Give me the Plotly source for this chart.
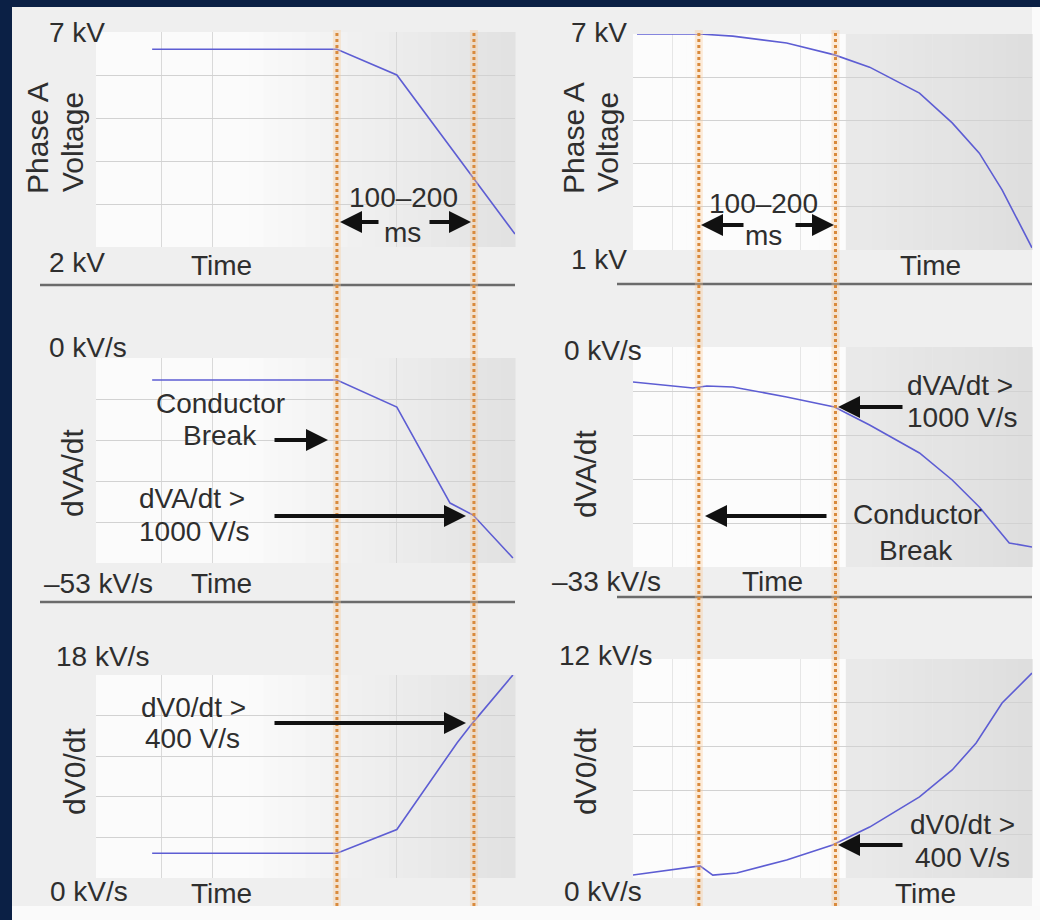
import plotly.graph_objects as go

W, H = 1040, 920
FONT = "Liberation Sans, Arial, sans-serif"
TXT = "#2e2e2e"
NAVY = "#0b2045"
CURVE = "#5d5dd3"

# ---------------- data (time axis 0..100 per column) ----------------
t_l1 = [13.4, 57.5, 71.8, 100.0]
v_l1 = [6.6, 6.6, 6.0, 2.3]
t_l2 = [13.4, 57.5, 71.8, 84.5, 90.0, 99.5]
v_l2 = [-5.7, -5.7, -12.7, -37.5, -40.6, -51.7]
t_l3 = [13.4, 57.5, 71.8, 86.2, 90.0, 99.5]
v_l3 = [2.2, 2.2, 4.3, 12.0, 13.8, 18.0]
t_r1 = [1.0, 16.8, 25.0, 38.5, 50.5, 59.3, 71.8, 80.0, 86.8, 92.5, 100.0]
v_r1 = [7.0, 7.0, 6.94, 6.75, 6.42, 6.08, 5.36, 4.53, 3.69, 2.67, 1.06]
t_r2 = [0.0, 15.0, 18.5, 25.0, 38.5, 50.5, 59.3, 71.8, 80.0, 86.8, 94.3, 100.0]
v_r2 = [-5.25, -6.15, -5.85, -6.0, -7.5, -9.0, -11.7, -15.9, -19.95, -24.0, -29.4, -30.0]
t_r3 = [0.0, 15.0, 16.8, 20.0, 26.0, 38.5, 50.0, 59.3, 71.8, 80.0, 86.0, 92.5, 100.0]
v_r3 = [0.16, 0.60, 0.66, 0.16, 0.27, 0.99, 1.81, 2.79, 4.44, 5.92, 7.40, 9.59, 11.23]

# break / detection instants (time units)
break_left, detect_left = 57.5, 90.2
break_right, detect_right = 16.5, 50.75

# axis ranges and end labels
y_ranges = [[2, 7], [1, 7], [-53, 0], [-33, 0], [0, 18], [0, 12]]
top_labels = ["7 kV", "7 kV", "0 kV/s", "0 kV/s", "18 kV/s", "12 kV/s"]
bottom_labels = ["2 kV", "1 kV", "\u201353 kV/s", "\u201333 kV/s", "0 kV/s", "0 kV/s"]
y_titles = ["dVA/dt", "dV0/dt"]
x_title = "Time"
span_text = ["100\u2013200", "ms"]
left_vgrid = [0, 15.75, 27.9, 71.8]
right_vgrid = [0, 10, 42, 75]

# ---------------- layout geometry (pixels) ----------------
def X(p):
    return p / W

def Y(p):
    return 1 - p / H

col_px = {"L": (96, 515), "R": (633, 1032)}
row_px = [(32, 247), (34, 250), (358, 563), (347, 567), (675, 878), (659, 878)]
cols = ["L", "R", "L", "R", "L", "R"]

fig = go.Figure()
series = [(t_l1, v_l1), (t_r1, v_r1), (t_l2, v_l2), (t_r2, v_r2), (t_l3, v_l3), (t_r3, v_r3)]
layout_axes = {}
for i, (tt, vv) in enumerate(series):
    n = "" if i == 0 else str(i + 1)
    fig.add_trace(go.Scatter(x=tt, y=vv, mode="lines", line=dict(color=CURVE, width=1.6),
                             xaxis="x" + n, yaxis="y" + n, showlegend=False, hoverinfo="skip"))
    x0, x1 = col_px[cols[i]]
    y0, y1 = row_px[i]
    lo, hi = y_ranges[i]
    layout_axes["xaxis" + n] = dict(domain=[X(x0), X(x1)], range=[0, 100], anchor="y" + n,
                                    showticklabels=False, ticks="", zeroline=False, showline=False,
                                    tickvals=left_vgrid if cols[i] == "L" else right_vgrid,
                                    gridcolor="#d9d9d9" if cols[i] == "L" else "#e6e6e6", gridwidth=1,
                                    fixedrange=True)
    layout_axes["yaxis" + n] = dict(domain=[Y(y1), Y(y0)], range=[lo, hi], anchor="x" + n,
                                    showticklabels=False, ticks="", zeroline=False, showline=False,
                                    tickvals=[lo + k * (hi - lo) / 5 for k in range(6)],
                                    gridcolor="#d2d2d2", gridwidth=1, fixedrange=True)

shapes = []
# content background
shapes.append(dict(type="rect", xref="paper", yref="paper", x0=X(12), x1=X(1040), y0=Y(920), y1=Y(7),
                   fillcolor="#efefef", line=dict(width=0), layer="below"))
shapes.append(dict(type="rect", xref="paper", yref="paper", x0=X(1032), x1=X(1040), y0=Y(920), y1=Y(7),
                   fillcolor="#fbfbfb", line=dict(width=0), layer="below"))
shapes.append(dict(type="rect", xref="paper", yref="paper", x0=X(12), x1=X(1040), y0=Y(920), y1=Y(906),
                   fillcolor="#fafafa", line=dict(width=0), layer="below"))
# panel gradients
NS = 30
for i in range(6):
    x0, x1 = col_px[cols[i]]
    y0, y1 = row_px[i]
    for k in range(NS):
        f = (k + 0.5) / NS
        if cols[i] == "L":
            g = 251 if f < 0.35 else 251 - (f - 0.35) / 0.65 * 26
        else:
            g = 252 if f < 0.53 else 234 - (f - 0.53) / 0.47 * 12
        g = int(round(g))
        shapes.append(dict(type="rect", xref="paper", yref="paper",
                           x0=X(x0 + (x1 - x0) * k / NS), x1=X(x0 + (x1 - x0) * (k + 1) / NS + 0.6),
                           y0=Y(y1), y1=Y(y0), fillcolor=f"rgb({g},{g},{g})",
                           line=dict(width=0), layer="below"))
# separators
for (xa, xb, yy) in [(40, 515, 285), (617, 1032, 284), (40, 515, 602), (617, 1032, 597)]:
    shapes.append(dict(type="line", xref="paper", yref="paper", x0=X(xa), x1=X(xb), y0=Y(yy), y1=Y(yy),
                       line=dict(color="#6b6b6b", width=2.5)))
# orange markers
for xr, tv in [("x", break_left), ("x", detect_left), ("x2", break_right), ("x2", detect_right)]:
    shapes.append(dict(type="line", xref=xr, yref="paper", x0=tv, x1=tv, y0=Y(906), y1=Y(30),
                       line=dict(color="rgba(250,200,150,0.35)", width=8)))
    shapes.append(dict(type="line", xref=xr, yref="paper", x0=tv, x1=tv, y0=Y(906), y1=Y(30),
                       line=dict(color="#d98a3c", width=3, dash="3px,3px")))

ann = []

def txt(text, px, py, size=28, xanchor="center", angle=0):
    ann.append(dict(text=text, x=X(px), y=Y(py), xref="paper", yref="paper", showarrow=False,
                    xanchor=xanchor, yanchor="middle", textangle=angle,
                    font=dict(family=FONT, size=size, color=TXT)))

def arrow(hx, hy, tx, ty):
    ann.append(dict(text="", x=X(hx), y=Y(hy), xref="paper", yref="paper", ax=tx - hx, ay=ty - hy,
                    showarrow=True, arrowhead=2, arrowsize=1.1, arrowwidth=4, arrowcolor="#111111",
                    standoff=0, startstandoff=0))

# end labels
txt(top_labels[0], 47, 33, xanchor="left")
txt(bottom_labels[0], 47, 262, xanchor="left")
txt(top_labels[1], 629, 33, xanchor="right")
txt(bottom_labels[1], 629, 259, xanchor="right")
txt(top_labels[2], 47, 347, xanchor="left")
txt(bottom_labels[2], 42, 583, xanchor="left")
txt(top_labels[3], 644, 350, xanchor="right")
txt(bottom_labels[3], 663, 581, xanchor="right")
txt(top_labels[4], 54, 656, xanchor="left")
txt(bottom_labels[4], 48, 891, xanchor="left")
txt(top_labels[5], 654, 655, xanchor="right")
txt(bottom_labels[5], 644, 891, xanchor="right")

# time labels
txt(x_title, 221, 265)
txt(x_title, 930, 265)
txt(x_title, 221, 583)
txt(x_title, 772, 581)
txt(x_title, 221, 893)
txt(x_title, 925, 893)

# y titles
txt("Phase A", 37, 138, size=30, angle=-90)
txt("Voltage", 72, 142, size=30, angle=-90)
txt("Phase A", 573, 138, size=30, angle=-90)
txt("Voltage", 607, 142, size=30, angle=-90)
txt(y_titles[0], 72, 473, size=30, angle=-90)
txt(y_titles[0], 585, 474, size=30, angle=-90)
txt(y_titles[1], 74, 772, size=30, angle=-90)
txt(y_titles[1], 585, 772, size=30, angle=-90)

# 100-200 ms spans
txt(span_text[0], 403, 198)
txt(span_text[1], 402, 232)
arrow(340, 222, 380, 222)
arrow(471, 222, 428, 222)
txt(span_text[0], 763, 203)
txt(span_text[1], 763, 235)
arrow(701, 225, 745, 225)
arrow(834, 225, 794, 225)

# row 2 annotations
txt("Conductor", 220, 403)
txt("Break", 220, 436)
arrow(328, 440, 273, 440)
txt("dVA/dt >", 192, 498)
txt("1000 V/s", 194, 531)
arrow(466, 516, 273, 516)
txt("dVA/dt >", 960, 385)
txt("1000 V/s", 962, 417)
arrow(838, 407, 904, 407)
txt("Conductor", 917, 514)
txt("Break", 916, 550)
arrow(705, 516, 828, 516)

# row 3 annotations
txt("dV0/dt >", 193, 707)
txt("400 V/s", 192, 738)
arrow(466, 723, 273, 723)
txt("dV0/dt >", 962, 824)
txt("400 V/s", 962, 857)
arrow(838, 845, 904, 845)

fig.update_layout(width=W, height=H, margin=dict(l=0, r=0, t=0, b=0),
                  paper_bgcolor=NAVY, plot_bgcolor="rgba(0,0,0,0)",
                  shapes=shapes, annotations=ann, showlegend=False, **layout_axes)
fig.write_html("out.html", config={"displayModeBar": False})
